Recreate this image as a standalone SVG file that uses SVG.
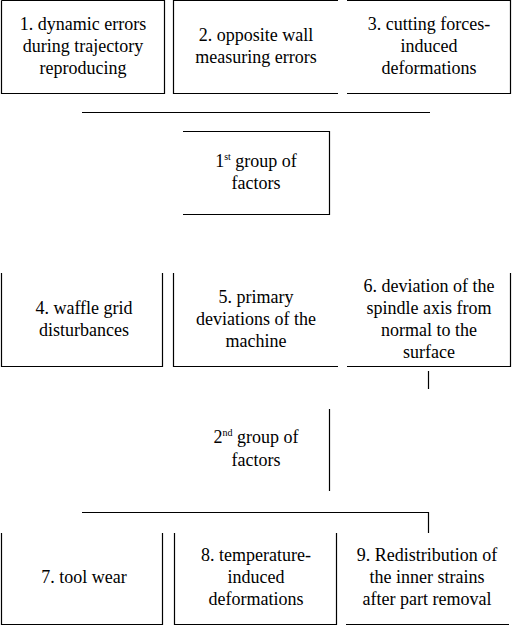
<svg xmlns="http://www.w3.org/2000/svg" width="512" height="625" viewBox="0 0 512 625">
<rect width="512" height="625" fill="#fff"/>
<g stroke="#000" stroke-width="1.2" fill="none">
<path id="n1-box" d="M1.5,0.5V93.5H164.5V0.5H1.5"/>
<path id="n2-box" d="M338,0.5H173.5V93.5H338"/>
<path id="n3-box" d="M347,0.5H510.5V93.5H347"/>
<path id="g1-box" d="M183,131.5H329.5V214.5H183"/>
<path id="n4-box" d="M1.5,273V366.5H162.5V273"/>
<path id="n5-box" d="M173.5,273V366.5H338"/>
<path id="n6-box" d="M347,366.5H510.5V273"/>
<path id="g2-box" d="M329.5,409V491"/>
<path id="n7-box" d="M1.5,533V624.5H162.5V533"/>
<path id="n8-box" d="M174.5,533V624.5H336.5V533"/>
<path id="n9-box" d="M346,624.5H509"/>
</g>
<g id="connectors" stroke="#000" stroke-width="1.2" fill="none"><path d="M82,112.5H430"/><path d="M428.5,371V389"/><path d="M82,512.5H428.5V533"/></g>
<g font-family="Times New Roman" font-size="18" text-anchor="middle">
<g id="n1"><text x="83" y="30" font-family="Times New Roman">1. dynamic errors</text><text x="83" y="52" font-family="Times New Roman">during trajectory</text><text x="83" y="74" font-family="Times New Roman">reproducing</text></g>
<g id="n2"><text x="256" y="41" font-family="Times New Roman">2. opposite wall</text><text x="256" y="63" font-family="Times New Roman">measuring errors</text></g>
<g id="n3"><text x="429" y="30" font-family="Times New Roman">3. cutting forces-</text><text x="429" y="52" font-family="Times New Roman">induced</text><text x="429" y="74" font-family="Times New Roman">deformations</text></g>
<g id="g1"><text x="256" y="167" font-family="Times New Roman">1<tspan font-size="10" dy="-7">st</tspan><tspan dy="7"> group of</tspan></text><text x="256" y="189" font-family="Times New Roman">factors</text></g>
<g id="n4"><text x="84" y="314" font-family="Times New Roman">4. waffle grid</text><text x="84" y="336" font-family="Times New Roman">disturbances</text></g>
<g id="n5"><text x="256" y="303" font-family="Times New Roman">5. primary</text><text x="256" y="325" font-family="Times New Roman">deviations of the</text><text x="256" y="347" font-family="Times New Roman">machine</text></g>
<g id="n6"><text x="429" y="292" font-family="Times New Roman">6. deviation of the</text><text x="429" y="314" font-family="Times New Roman">spindle axis from</text><text x="429" y="336" font-family="Times New Roman">normal to the</text><text x="429" y="358" font-family="Times New Roman">surface</text></g>
<g id="g2"><text x="256" y="443" font-family="Times New Roman">2<tspan font-size="10" dy="-7">nd</tspan><tspan dy="7"> group of</tspan></text><text x="256" y="466" font-family="Times New Roman">factors</text></g>
<g id="n7"><text x="84" y="583" font-family="Times New Roman">7. tool wear</text></g>
<g id="n8"><text x="256" y="561" font-family="Times New Roman">8. temperature-</text><text x="256" y="583" font-family="Times New Roman">induced</text><text x="256" y="605" font-family="Times New Roman">deformations</text></g>
<g id="n9"><text x="427" y="561" font-family="Times New Roman">9. Redistribution of</text><text x="427" y="583" font-family="Times New Roman">the inner strains</text><text x="427" y="605" font-family="Times New Roman">after part removal</text></g>
</g>
</svg>
